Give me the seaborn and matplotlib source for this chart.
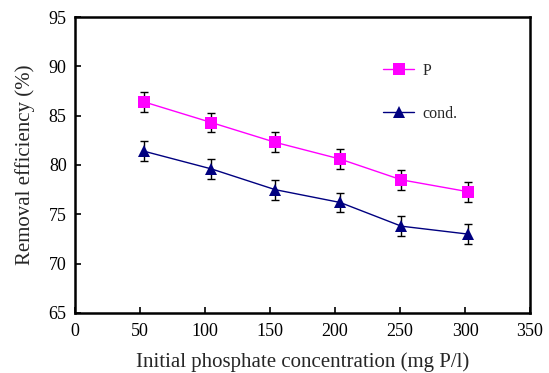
import numpy as np
import pandas as pd
import matplotlib
matplotlib.use("Agg")
import matplotlib.pyplot as plt
import seaborn as sns
from matplotlib.lines import Line2D

# values
conc = [53, 105, 154, 204, 251, 302]
p_removal = [86.4, 84.3, 82.3, 80.6, 78.5, 77.3]
p_err = [1.0, 1.0, 1.0, 1.0, 1.0, 1.0]
cond_removal = [81.4, 79.6, 77.5, 76.2, 73.8, 73.0]
cond_err = [1.0, 1.0, 1.0, 1.0, 1.0, 1.0]

series = ["P", "cond."]
colors = {"P": "#FF00FF", "cond.": "#000080"}
markers = {"P": "s", "cond.": "^"}

df = pd.DataFrame({
    "conc": conc * 2,
    "removal": p_removal + cond_removal,
    "err": p_err + cond_err,
    "series": ["P"] * len(conc) + ["cond."] * len(conc),
})

sns.set_style("ticks")
plt.rcParams["font.family"] = ["Liberation Serif", "DejaVu Serif"]

fig = plt.figure(figsize=(5.49, 3.73), dpi=100)
ax = fig.add_axes([0.1366, 0.1609, 0.8288, 0.7935])

# error bars first, black with caps
for s in series:
    d = df[df["series"] == s]
    ax.errorbar(d["conc"], d["removal"], yerr=d["err"], fmt="none",
                ecolor="black", elinewidth=1.0, capsize=3, capthick=1.0, zorder=2)

sns.lineplot(data=df, x="conc", y="removal", hue="series", style="series",
             palette=colors, markers=markers, dashes=False, markersize=9,
             markeredgewidth=0, linewidth=1.0, ax=ax, zorder=3, legend=False)

# legend handles
handles = [Line2D([], [], color=colors[s], marker=markers[s], markersize=9,
                  markeredgewidth=0, linewidth=1.0) for s in series]
ax.legend(handles, series, loc="upper left", bbox_to_anchor=(0.66, 0.872),
          frameon=False, fontsize=11.5, labelspacing=1.7, handlelength=1.95,
          handletextpad=0.5, borderpad=0)

ax.set_xlim(0, 350)
ax.set_ylim(65, 95)
ax.set_xticks(np.arange(0, 351, 50))
ax.set_yticks(np.arange(65, 96, 5))
ax.tick_params(direction="in", length=4, width=1.2, labelsize=13, colors="black")
ax.tick_params(axis="x", pad=7)
ax.tick_params(axis="y", pad=6)
for sp in ax.spines.values():
    sp.set_linewidth(1.8)
    sp.set_color("black")
ax.set_xlabel("Initial phosphate concentration (mg P/l)", fontsize=15, labelpad=9)
ax.set_ylabel("Removal efficiency (%)", fontsize=15, labelpad=10)

fig.savefig("out.png", dpi=100)
